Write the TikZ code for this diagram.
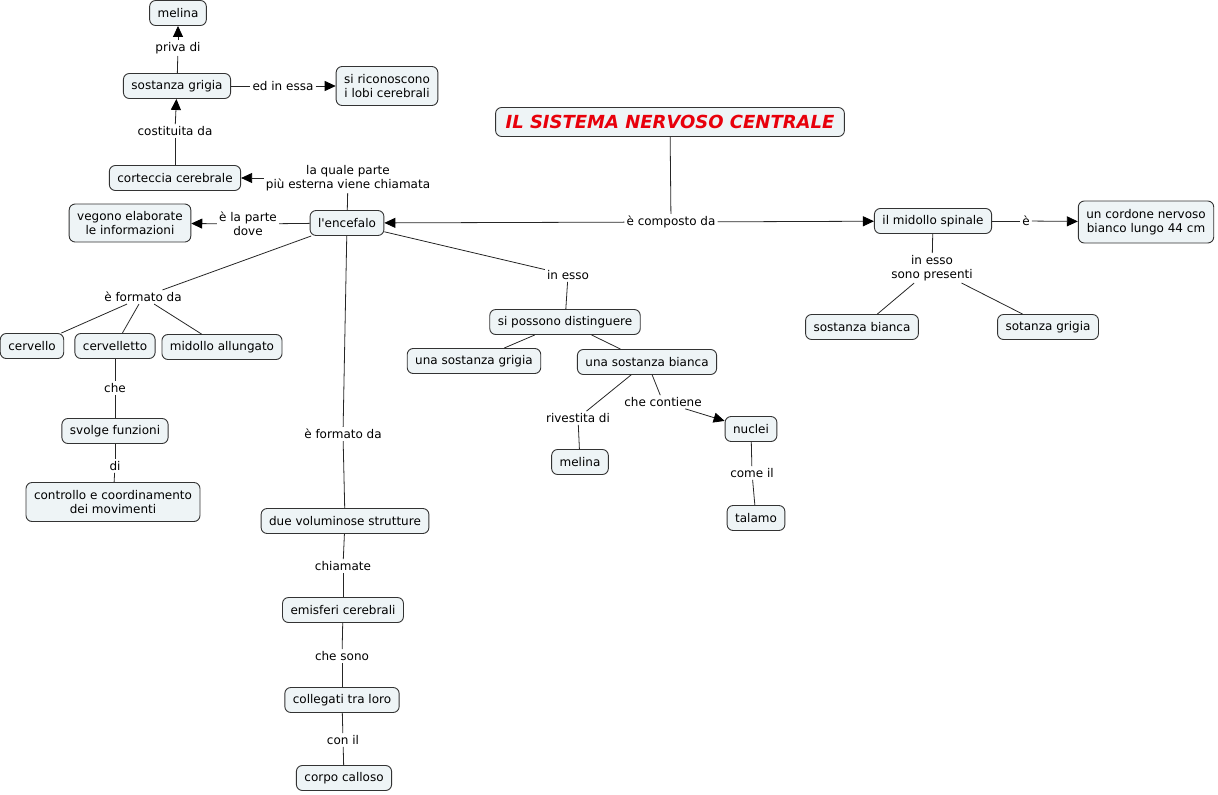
\documentclass[tikz,border=0pt]{standalone}
\usepackage{fontspec}
\setmainfont{DejaVu Sans}
\usetikzlibrary{arrows.meta}
\definecolor{boxfill}{HTML}{EEF4F6}
\definecolor{boxline}{HTML}{333333}
\definecolor{titlered}{HTML}{E8000B}

\begin{document}
\begin{tikzpicture}[
  x=1pt, y=-1pt,
  >={Triangle[length=11pt,width=10pt,color=black]},
  concept/.style={draw=boxline, fill=boxfill, rounded corners=6pt, line width=0.9pt,
                  minimum height=25pt, inner xsep=8pt, align=center,
                  font=\fontsize{12}{14}\selectfont},
  linkword/.style={inner sep=2pt, align=center, font=\fontsize{12}{14}\selectfont},
  link/.style={draw=black!85, line width=0.8pt}
]
  \useasboundingbox (0,0) rectangle (1218,795);

  % concetti
  \node[concept, minimum height=29pt, inner xsep=10pt,
        font=\fontsize{18}{20}\selectfont\bfseries\itshape,
        text=titlered] (title) at (670,122) {IL SISTEMA NERVOSO CENTRALE};
  \node[concept] (enc)   at (347,223) {l\textquotesingle encefalo};
  \node[concept] (spin)  at (933,221) {il midollo spinale};
  \node[concept, minimum height=42pt] (cord) at (1146,222) {un cordone nervoso\\bianco lungo 44 cm};
  \node[concept] (sbsp)  at (862,327) {sostanza bianca};
  \node[concept] (sgsp)  at (1048,327) {sotanza grigia};

  \node[concept] (mel1)  at (178,13)  {melina};
  \node[concept] (sgrig) at (177,86)  {sostanza grigia};
  \node[concept, minimum height=39pt] (lobi) at (387,86) {si riconoscono\\i lobi cerebrali};
  \node[concept] (cort)  at (175,178) {corteccia cerebrale};
  \node[concept, minimum height=38pt] (elab) at (130,223) {vegono elaborate\\le informazioni};

  \node[concept] (cerv)  at (32,346)  {cervello};
  \node[concept] (cerl)  at (115,346) {cervelletto};
  \node[concept] (mall)  at (222,347) {midollo allungato};
  \node[concept] (svol)  at (115,431) {svolge funzioni};
  \node[concept, minimum height=39pt] (ctrl) at (113,502) {controllo e coordinamento\\dei movimenti};

  \node[concept] (due)   at (345,521) {due voluminose strutture};
  \node[concept] (emis)  at (343,610) {emisferi cerebrali};
  \node[concept] (coll)  at (342,700) {collegati tra loro};
  \node[concept] (corp)  at (344,778) {corpo calloso};

  \node[concept] (dist)  at (565,322) {si possono distinguere};
  \node[concept] (usg)   at (474,361) {una sostanza grigia};
  \node[concept] (usb)   at (647,362) {una sostanza bianca};
  \node[concept] (mel2)  at (580,462) {melina};
  \node[concept] (nucl)  at (751,429) {nuclei};
  \node[concept] (tal)   at (756,518) {talamo};

  % parole di collegamento
  \node[linkword] (lcomp)  at (671,222) {è composto da};
  \node[linkword] (le)     at (1026,221) {è};
  \node[linkword] (lpres)  at (932,268) {in esso\\sono presenti};
  \node[linkword] (lpriva) at (178,48)  {priva di};
  \node[linkword] (ledin)  at (283,86)  {ed in essa};
  \node[linkword] (lcost)  at (175,131) {costituita da};
  \node[linkword] (lqual)  at (348,178) {la quale parte\\più esterna viene chiamata};
  \node[linkword] (lparte) at (248,224) {è la parte\\dove};
  \node[linkword] (lform1) at (143,297) {è formato da};
  \node[linkword] (lche)   at (115,388) {che};
  \node[linkword] (ldi)    at (115,466) {di};
  \node[linkword] (lform2) at (343,434) {è formato da};
  \node[linkword] (lchiam) at (343,566) {chiamate};
  \node[linkword] (lsono)  at (342,656) {che sono};
  \node[linkword] (lcon)   at (343,740) {con il};
  \node[linkword] (lesso)  at (568,275) {in esso};
  \node[linkword] (lriv)   at (578,418) {rivestita di};
  \node[linkword] (lcont)  at (663,402) {che contiene};
  \node[linkword] (lcome)  at (752,473) {come il};

  % collegamenti con freccia
  \draw[link] (title) -- (lcomp);
  \draw[link, ->] (lcomp) -- (enc);
  \draw[link, ->] (lcomp) -- (spin);
  \draw[link] (spin) -- (le);
  \draw[link, ->] (le) -- (cord);
  \draw[link] (sgrig) -- (lpriva);
  \draw[link, ->] (lpriva) -- (mel1);
  \draw[link] (sgrig) -- (ledin);
  \draw[link, ->] (ledin) -- (lobi);
  \draw[link] (cort) -- (lcost);
  \draw[link, ->] (lcost) -- (sgrig);
  \draw[link] (enc) -- (lqual);
  \draw[link, ->] (lqual) -- (cort);
  \draw[link] (enc) -- (lparte);
  \draw[link, ->] (lparte) -- (elab);
  \draw[link] (usb) -- (lcont);
  \draw[link, ->] (lcont) -- (nucl);

  % collegamenti senza freccia
  \foreach \a/\b in {spin/lpres, lpres/sbsp, lpres/sgsp,
                     enc/lform1, lform1/cerv, lform1/cerl, lform1/mall,
                     cerl/lche, lche/svol, svol/ldi, ldi/ctrl,
                     enc/lform2, lform2/due, due/lchiam, lchiam/emis,
                     emis/lsono, lsono/coll, coll/lcon, lcon/corp,
                     enc/lesso, lesso/dist, dist/usg, dist/usb,
                     usb/lriv, lriv/mel2, nucl/lcome, lcome/tal}
    \draw[link] (\a) -- (\b);
\end{tikzpicture}
\end{document}
